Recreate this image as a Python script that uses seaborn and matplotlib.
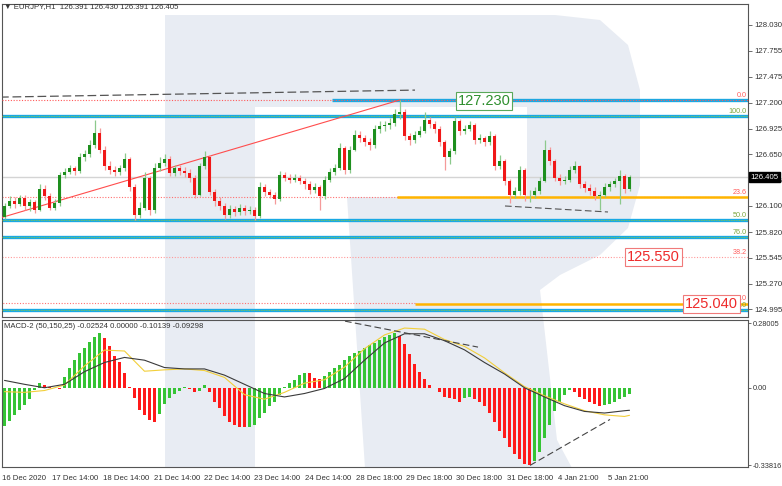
import matplotlib
matplotlib.use("Agg")
import numpy as np
import seaborn as sns
from matplotlib import pyplot as plt
from matplotlib.patches import Polygon

sns.set_style("white")
plt.rcParams["font.family"] = ["Liberation Sans", "DejaVu Sans"]

# ---- data (EURJPY H1, one candle per slot) ----
first_open = 125.98
close = [126.10, 126.15, 126.12, 126.18, 126.10, 126.14, 126.06, 126.28, 126.20, 126.08,
         126.13, 126.43, 126.46, 126.50, 126.47, 126.62, 126.65, 126.75, 126.88, 126.70,
         126.52, 126.48, 126.46, 126.50, 126.60, 126.30, 126.00, 126.08, 126.40, 126.05,
         126.50, 126.56, 126.60, 126.45, 126.50, 126.47, 126.45, 126.40, 126.22, 126.52,
         126.62, 126.25, 126.15, 126.10, 126.00, 126.07, 126.03, 126.08, 126.04, 126.06,
         125.99, 126.30, 126.25, 126.22, 126.17, 126.43, 126.40, 126.38, 126.40, 126.37,
         126.33, 126.27, 126.30, 126.20, 126.38, 126.46, 126.50, 126.72, 126.48, 126.70,
         126.86, 126.82, 126.78, 126.75, 126.92, 126.95, 126.96, 126.98, 127.08, 127.10,
         126.85, 126.80, 126.86, 126.90, 127.02, 126.97, 126.92, 126.78, 126.62, 126.68,
         127.00, 126.90, 126.92, 126.96, 126.80, 126.82, 126.78, 126.85, 126.52, 126.58,
         126.36, 126.22, 126.26, 126.48, 126.21, 126.22, 126.26, 126.37, 126.70, 126.58,
         126.40, 126.36, 126.38, 126.48, 126.52, 126.33, 126.29, 126.26, 126.20, 126.22,
         126.30, 126.33, 126.36, 126.42, 126.28, 126.405]
high = [126.13, 126.20, 126.19, 126.22, 126.21, 126.17, 126.16, 126.33, 126.32, 126.24,
        126.17, 126.46, 126.50, 126.54, 126.53, 126.66, 126.70, 126.80, 127.02, 126.93,
        126.74, 126.58, 126.52, 126.54, 126.66, 126.62, 126.33, 126.14, 126.46, 126.42,
        126.56, 126.62, 126.65, 126.63, 126.54, 126.54, 126.51, 126.49, 126.43, 126.56,
        126.68, 126.64, 126.28, 126.19, 126.13, 126.11, 126.10, 126.12, 126.11, 126.10,
        126.09, 126.35, 126.33, 126.28, 126.25, 126.47, 126.46, 126.44, 126.44, 126.43,
        126.40, 126.36, 126.34, 126.32, 126.42, 126.50, 126.55, 126.77, 126.74, 126.74,
        126.91, 126.90, 126.86, 126.82, 126.96, 127.00, 127.01, 127.04, 127.13, 127.23,
        127.13, 126.88, 126.90, 126.95, 127.10, 127.05, 127.00, 126.95, 126.80, 126.72,
        127.05, 127.03, 126.96, 127.01, 126.98, 126.87, 126.85, 126.90, 126.87, 126.64,
        126.60, 126.39, 126.30, 126.52, 126.50, 126.27, 126.30, 126.41, 126.80, 126.73,
        126.60, 126.44, 126.42, 126.52, 126.58, 126.54, 126.36, 126.33, 126.30, 126.26,
        126.34, 126.37, 126.40, 126.48, 126.44, 126.43]
low = [125.96, 126.08, 126.08, 126.10, 126.06, 126.04, 126.02, 126.04, 126.16, 126.05,
       126.06, 126.10, 126.40, 126.44, 126.43, 126.45, 126.58, 126.62, 126.72, 126.66,
       126.48, 126.44, 126.42, 126.43, 126.47, 126.26, 125.95, 125.97, 126.05, 126.00,
       126.02, 126.47, 126.52, 126.42, 126.42, 126.43, 126.41, 126.35, 126.18, 126.20,
       126.49, 126.21, 126.10, 126.05, 125.96, 125.97, 125.99, 126.00, 126.00, 126.01,
       125.95, 125.97, 126.20, 126.18, 126.12, 126.15, 126.36, 126.34, 126.35, 126.33,
       126.28, 126.23, 126.24, 126.06, 126.17, 126.35, 126.43, 126.48, 126.44, 126.45,
       126.68, 126.78, 126.74, 126.70, 126.72, 126.88, 126.90, 126.92, 126.95, 127.03,
       126.80, 126.75, 126.77, 126.83, 126.88, 126.93, 126.88, 126.74, 126.48, 126.55,
       126.65, 126.86, 126.87, 126.90, 126.76, 126.77, 126.74, 126.75, 126.48, 126.49,
       126.32, 126.13, 126.18, 126.22, 126.15, 126.14, 126.18, 126.23, 126.35, 126.54,
       126.36, 126.32, 126.33, 126.35, 126.45, 126.29, 126.25, 126.22, 126.16, 126.05,
       126.19, 126.26, 126.30, 126.12, 126.24, 126.26]

# MACD-2 (50,150,25) histogram, one value per candle
hist = [-0.165, -0.145, -0.12, -0.095, -0.075, -0.05, -0.01, 0.02, 0.012, 0.004,
        0.0, -0.005, 0.045, 0.085, 0.12, 0.15, 0.175, 0.20, 0.22, 0.24,
        0.215, 0.18, 0.14, 0.11, 0.065, 0.005, -0.045, -0.095, -0.12, -0.14,
        -0.15, -0.115, -0.07, -0.045, -0.025, -0.012, 0.003, -0.004, -0.02, -0.012,
        0.01, -0.02, -0.06, -0.09, -0.125, -0.15, -0.163, -0.17, -0.173, -0.172,
        -0.16, -0.13, -0.11, -0.08, -0.06, -0.03, 0.005, 0.02, 0.035, 0.055,
        0.066, 0.064, 0.042, 0.04, 0.05, 0.07, 0.085, 0.10, 0.12, 0.14,
        0.15, 0.16, 0.175, 0.185, 0.195, 0.21, 0.22, 0.23, 0.24, 0.225,
        0.19, 0.145, 0.105, 0.07, 0.04, 0.012, -0.002, -0.02, -0.04, -0.045,
        -0.05, -0.06, -0.045, -0.04, -0.05, -0.06, -0.08, -0.11, -0.15, -0.19,
        -0.22, -0.26, -0.29, -0.31, -0.33, -0.338, -0.32, -0.28, -0.22, -0.16,
        -0.10, -0.06, -0.03, -0.01, -0.02, -0.04, -0.05, -0.06, -0.07, -0.08,
        -0.075, -0.07, -0.06, -0.05, -0.04, -0.025]
# the two MACD lines, read every 4th candle
line_idx = list(range(0, 126, 4)) + [125]
macd_black = [0.032, 0.015, 0.0, 0.015, 0.07, 0.11, 0.132, 0.12, 0.088, 0.082,
              0.082, 0.055, 0.015, -0.025, -0.04, -0.025, -0.003, 0.04, 0.12, 0.195,
              0.235, 0.235, 0.205, 0.165, 0.11, 0.06, 0.0, -0.04, -0.078, -0.103,
              -0.11, -0.10, -0.098]
macd_yellow = [-0.017, -0.02, -0.012, 0.012, 0.095, 0.164, 0.16, 0.072, 0.078, 0.082,
               0.075, 0.045, -0.03, -0.05, -0.02, 0.02, 0.035, 0.09, 0.17, 0.23,
               0.26, 0.255, 0.21, 0.18, 0.13, 0.065, 0.005, -0.035, -0.07, -0.10,
               -0.118, -0.125, -0.12]

price_ticks = [128.030, 127.755, 127.475, 127.200, 126.925, 126.650, 126.375,
               126.100, 125.820, 125.545, 125.270, 124.995]
macd_ticks = [0.28005, 0.0, -0.33816]
macd_tick_labels = ["0.28005", "0.00", "-0.33816"]
date_labels = ["16 Dec 2020", "17 Dec 14:00", "18 Dec 14:00", "21 Dec 14:00",
               "22 Dec 14:00", "23 Dec 14:00", "24 Dec 14:00", "28 Dec 18:00",
               "29 Dec 18:00", "30 Dec 18:00", "31 Dec 18:00", "4 Jan 21:00",
               "5 Jan 21:00"]

last_price = 126.405
blue_levels = [127.058, 125.948, 125.767, 124.987]
fib_levels = [127.225, 127.058, 126.194, 125.948, 125.767, 125.553, 125.062, 124.987]
fib_names = ["0.0", "100.0", "23.6", "50.0", "76.0", "38.2", "0.0", "100.0"]
target_up, target_mid, target_low = 127.230, 125.550, 125.040
support_level = 126.194

SMALL = 5.6

# ---- figure ----
W, H = 782, 486
fig = plt.figure(figsize=(W / 100, H / 100), dpi=100)
fig.patch.set_facecolor("white")

# big faint "R" watermark behind both panels (pixel outline)
r_shape = [(165, 15), (555, 15), (600, 20), (628, 45), (640, 90), (640, 185),
           (628, 228), (600, 255), (560, 275), (540, 290), (557, 440), (572, 468),
           (365, 468), (347, 197), (527, 197), (527, 107), (255, 107), (255, 468),
           (165, 468)]
fig.patches.append(Polygon([(x / W, 1 - y / H) for x, y in r_shape], closed=True,
                           transform=fig.transFigure, facecolor="#e8ecf3",
                           edgecolor="none", zorder=-5))

ax = fig.add_axes([2 / W, 1 - 317 / H, 746 / W, 313 / H])
ax2 = fig.add_axes([2 / W, 1 - 467 / H, 746 / W, 147 / H], sharex=ax)
for a in (ax, ax2):
    a.patch.set_alpha(0)
    for s in a.spines.values():
        s.set_color("#555555")
        s.set_linewidth(0.8)

n = len(close)
idx = np.arange(n)
opens = np.array([first_open] + close[:-1])
closes = np.array(close)
up = closes >= opens
body_col = np.where(up, "#1e8f1e", "#f01818")
wick_col = np.where(up, "#8cc98c", "#f59a9a")

# levels
ax.axhline(last_price, color="#d4d4d4", lw=1.0, zorder=1)
for lv in blue_levels:
    ax.axhline(lv, color="#19a9e3", lw=2.4, zorder=2)
    ax.axhline(lv, color="#9acd32", lw=0.6, ls=(0, (1, 1)), zorder=3)
ax.hlines(target_up, 65.5, 150, color="#19a9e3", lw=2.4, zorder=2)
ax.axhline(127.225, color="#ff5a5a", lw=0.8, ls=(0, (1, 1.5)), zorder=3)
ax.axhline(support_level, color="#ff7070", lw=0.8, ls=(0, (1, 1.5)), zorder=2)
ax.hlines(support_level, 78.5, 150, color="#ffb400", lw=1.8, zorder=3)
ax.axhline(125.553, color="#ff9a9a", lw=0.8, ls=(0, (1, 1.5)), zorder=2)
ax.hlines(125.062, -1, 82, color="#ff7070", lw=0.8, ls=(0, (1, 1.5)), zorder=2)
ax.hlines(125.050, 82, 150, color="#ffb400", lw=1.8, zorder=3)

# trend lines
ax.plot([-0.9, 82.1], [127.26, 127.335], color="#555555", lw=0.9, ls=(0, (7, 3)), zorder=3)
ax.plot([-0.9, 79.1], [125.97, 127.23], color="#ff4d4d", lw=0.8, zorder=3)
ax.plot([100.1, 120.7], [126.098, 126.034], color="#555555", lw=0.8, ls=(0, (6, 3)), zorder=3)

# candles
ax.vlines(idx, low, high, colors=wick_col, lw=0.9, zorder=4)
body_h = np.maximum(np.abs(closes - opens), 0.008)
ax.bar(idx, body_h, bottom=np.minimum(opens, closes), width=0.55, color=body_col,
       linewidth=0, zorder=5)

ax.set_xlim(-0.5, 148.7)
ax.set_ylim(124.913, 128.254)
ax.yaxis.tick_right()
ax.set_yticks(price_ticks, [f"{v:.3f}" for v in price_ticks])
ax.tick_params(axis="y", direction="out", length=3, width=0.6, colors="#555555",
               labelsize=SMALL, labelcolor="#333333", pad=1.5)
ax.tick_params(axis="x", bottom=False, labelbottom=False)

# fibonacci level names on the right
ytr = ax.get_yaxis_transform()
for lv, nm in zip(fib_levels, fib_names):
    col = "#ff5a5a" if nm in ("0.0", "23.6", "38.2") else "#7aa63c"
    ax.text(0.998, lv + 0.012, nm, transform=ytr, ha="right", va="bottom",
            fontsize=5.2, color=col, zorder=6)

# boxed target prices
ax.text(95.9, 127.222, "127.230", ha="center", va="center", fontsize=10.5,
        color="#2f8f2f", zorder=7,
        bbox=dict(facecolor="white", edgecolor="#5aa85a", linewidth=0.8, pad=1.5))
ax.text(129.8, target_mid, f"{target_mid:.3f}", ha="center", va="center", fontsize=10.5,
        color="#ee2b2b", zorder=7,
        bbox=dict(facecolor="white", edgecolor="#f07a7a", linewidth=0.8, pad=1.5))
ax.text(141.4, 125.051, f"{target_low:.3f}", ha="center", va="center", fontsize=10.5,
        color="#ee2b2b", zorder=7,
        bbox=dict(facecolor="white", edgecolor="#f07a7a", linewidth=0.8, pad=1.2))

# current price tag
ax.text(1.003, last_price, f"{last_price:.3f}", transform=ytr, ha="left", va="center",
        fontsize=SMALL, color="white", zorder=8, clip_on=False,
        bbox=dict(facecolor="black", edgecolor="black", pad=1.2))

# ---- MACD panel ----
h = np.array(hist)
rising = np.concatenate([[True], np.diff(h) >= 0])
ax2.bar(idx, h, width=0.62, color=np.where(rising, "#35c435", "#ff1a1a"), linewidth=0,
        zorder=2)
sns.lineplot(x=line_idx, y=macd_yellow, ax=ax2, color="#f2cf3a", lw=0.8, zorder=3)
sns.lineplot(x=line_idx, y=macd_black, ax=ax2, color="#3a3a3a", lw=0.8, zorder=4)
ax2.plot([68.1, 94.7], [0.29, 0.177], color="#444444", lw=0.8, ls=(0, (6, 3)), zorder=5)
ax2.plot([105.1, 121.1], [-0.338, -0.138], color="#444444", lw=0.8, ls=(0, (6, 3)), zorder=5)

ax2.set_ylim(-0.345, 0.295)
ax2.yaxis.tick_right()
ax2.set_yticks(macd_ticks, macd_tick_labels)
ax2.tick_params(axis="y", direction="out", length=2.5, width=0.6, colors="#555555",
                labelsize=5.3, labelcolor="#333333", pad=1)
tick_pos = [-0.5 + 10.1 * k for k in range(len(date_labels))]
ax2.set_xticks(tick_pos, date_labels)
ax2.tick_params(axis="x", direction="out", length=3, width=0.6, colors="#555555",
                labelsize=SMALL, labelcolor="#333333", pad=3)
for lab in ax2.get_xticklabels():
    lab.set_ha("left")
ax2.set_xlabel("")
ax2.set_ylabel("")

# header texts
fig.text(4 / W, 1 - 7 / H, "\u25bc EURJPY,H1  126.391 126.430 126.391 126.405",
         fontsize=SMALL, color="#333333", va="center", ha="left")
fig.text(4 / W, 1 - 326 / H, "MACD-2 (50,150,25) -0.02524 0.00000 -0.10139 -0.09298",
         fontsize=SMALL, color="#333333", va="center", ha="left")

fig.savefig("out.png", dpi=100)
